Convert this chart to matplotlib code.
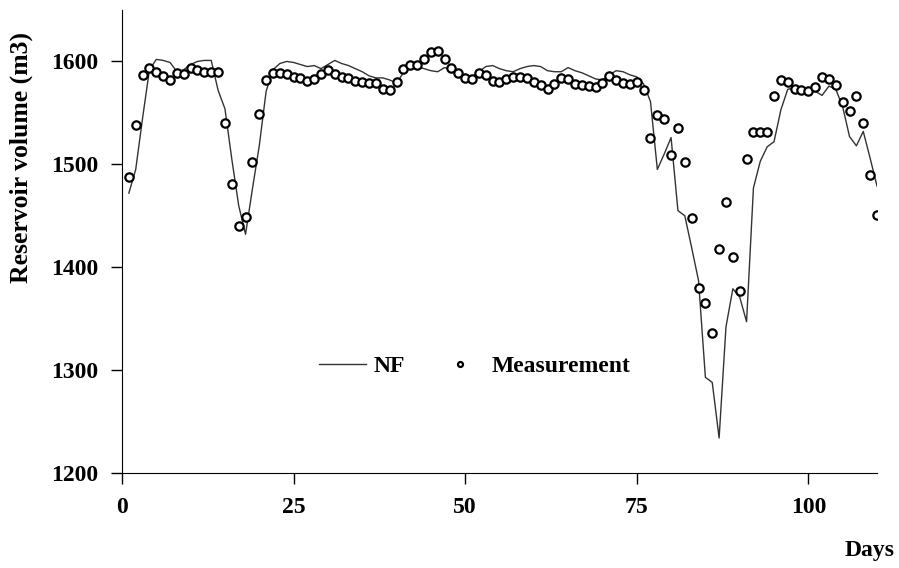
import numpy as np
import matplotlib
matplotlib.use('Agg')
import matplotlib.pyplot as plt

plt.rcParams['font.family'] = ['Liberation Serif', 'DejaVu Serif']
plt.rcParams['font.weight'] = 'bold'

days = np.arange(1, 111)

measurement = [1488, 1538, 1587, 1594, 1590, 1586, 1582, 1589, 1588, 1594,
               1592, 1590, 1590, 1590, 1540, 1481, 1440, 1449, 1502, 1549,
               1582, 1589, 1589, 1588, 1585, 1584, 1581, 1583, 1588, 1592,
               1588, 1585, 1584, 1581, 1580, 1579, 1579, 1573, 1572, 1580,
               1593, 1597, 1597, 1602, 1609, 1610, 1602, 1594, 1589, 1584,
               1583, 1589, 1587, 1581, 1580, 1583, 1585, 1585, 1584, 1580,
               1577, 1573, 1578, 1584, 1583, 1578, 1577, 1576, 1575, 1579,
               1586, 1582, 1579, 1578, 1580, 1572, 1526, 1548, 1544, 1509,
               1535, 1502, 1448, 1380, 1365, 1336, 1418, 1463, 1410, 1377,
               1505, 1531, 1531, 1531, 1566, 1582, 1580, 1573, 1572, 1571,
               1575, 1585, 1583, 1577, 1561, 1552, 1566, 1540, 1490, 1451]

nf = [1472, 1495, 1545, 1592, 1602, 1601, 1599, 1590, 1592, 1597,
      1600, 1601, 1601, 1572, 1554, 1505, 1460, 1432, 1476, 1518,
      1571, 1592, 1598, 1600, 1599, 1597, 1595, 1596, 1593, 1597,
      1601, 1598, 1596, 1593, 1590, 1586, 1584, 1584, 1582, 1579,
      1589, 1594, 1595, 1593, 1591, 1590, 1594, 1592, 1589, 1586,
      1585, 1590, 1595, 1596, 1593, 1591, 1590, 1593, 1595, 1596,
      1595, 1591, 1590, 1590, 1594, 1591, 1589, 1586, 1583, 1582,
      1587, 1591, 1590, 1587, 1585, 1578, 1561, 1495, 1510, 1526,
      1455, 1450, 1419, 1387, 1293, 1288, 1234, 1342, 1379, 1371,
      1347, 1477, 1503, 1517, 1522, 1553, 1573, 1574, 1573, 1569,
      1571, 1567, 1576, 1573, 1556, 1527, 1518, 1532, 1506, 1479]

fig = plt.figure(figsize=(8.99, 5.68), dpi=100)
ax = fig.add_axes([0.1357, 0.1673, 0.8398, 0.8151])

ax.plot(days, nf, color='#333333', lw=1.0, label='NF')
ax.plot(days, measurement, 'o', ms=6, mfc='white', mec='black', mew=1.6,
        ls='none', label='Measurement')

ax.set_xlim(0, 110)
ax.set_ylim(1200, 1650)
ax.set_xticks([0, 25, 50, 75, 100])
ax.set_yticks([1200, 1300, 1400, 1500, 1600])
for s in ['top', 'right']:
    ax.spines[s].set_visible(False)
ax.tick_params(direction='out', length=8, width=1, labelsize=17, pad=9)

ax.set_ylabel('Reservoir volume (m3)', fontsize=18.5, fontweight='bold')
ax.yaxis.set_label_coords(-0.118, 0.682)
ax.set_xlabel('Days', fontsize=17, fontweight='bold')
ax.xaxis.set_label_coords(0.99, -0.145)

leg = ax.legend(loc='center', bbox_to_anchor=(0.467, 0.231), ncol=2, frameon=False,
                prop={'size': 17, 'weight': 'bold'}, markerscale=0.6,
                columnspacing=1.3, handlelength=2.0, handletextpad=0.35)

fig.savefig('out.png', dpi=100)
